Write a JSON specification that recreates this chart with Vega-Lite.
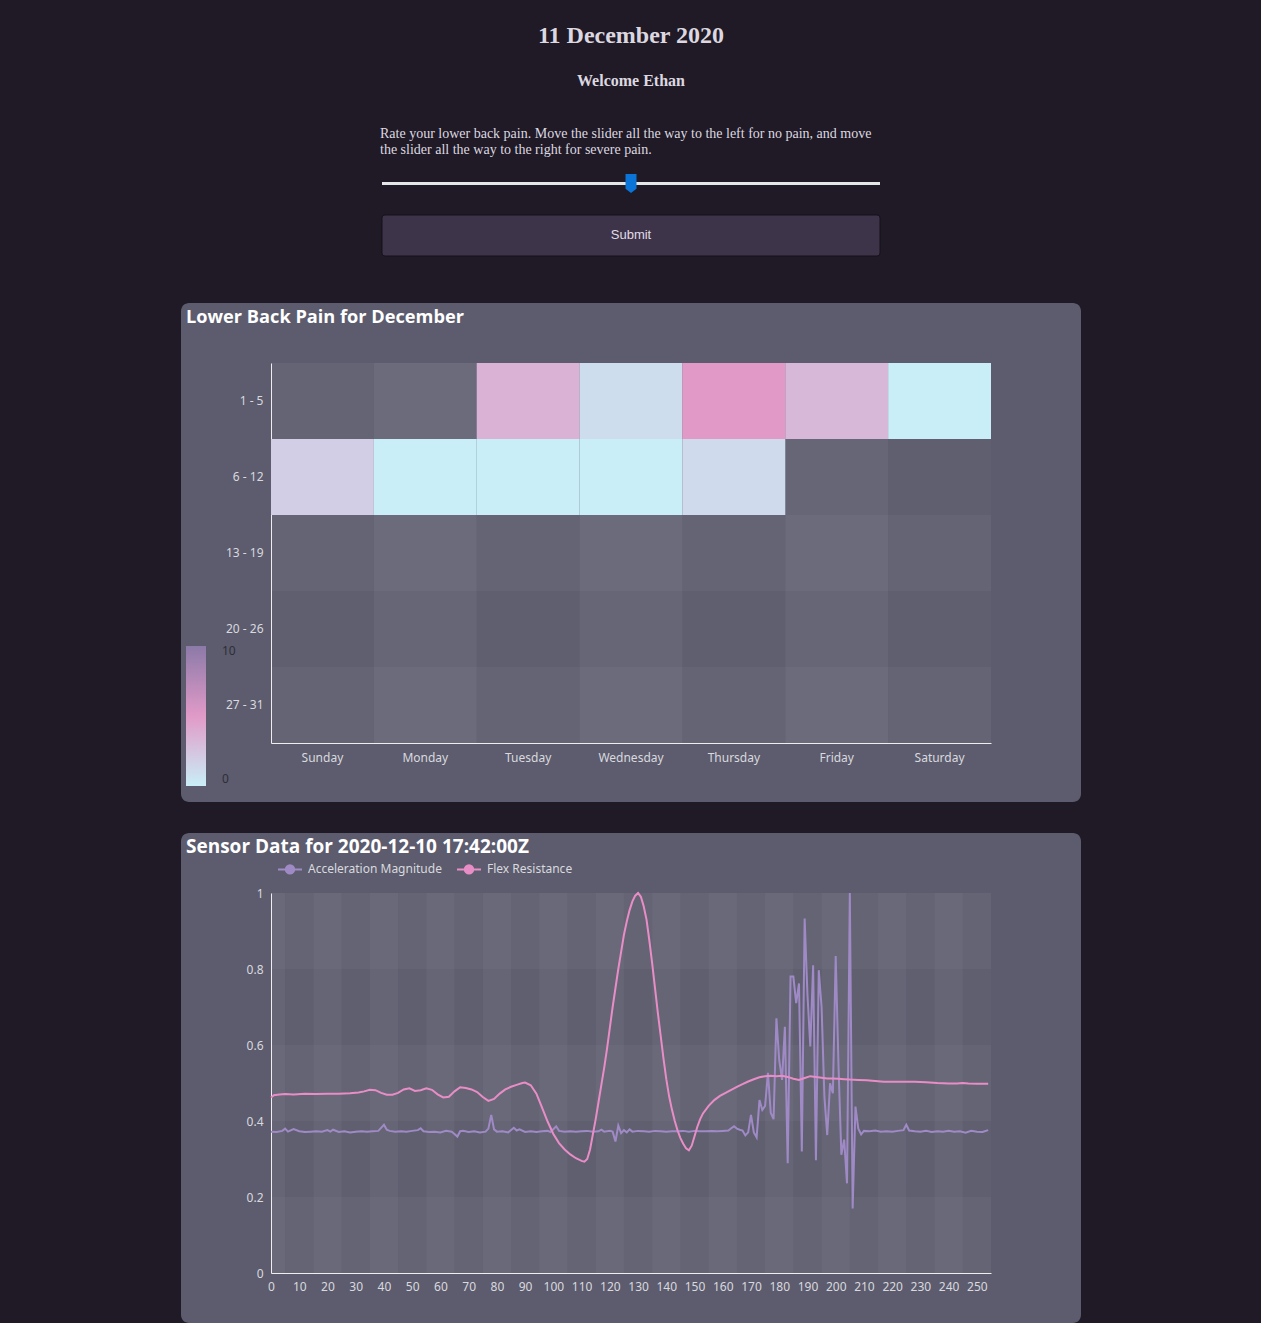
{
  "$schema": "https://vega.github.io/schema/vega-lite/v6.json",
  "background": "#1f1a25",
  "padding": {"left": 181, "top": 24, "right": 180, "bottom": 0},
  "title": {
    "text": "11 December 2020",
    "subtitle": "Welcome Ethan",
    "anchor": "middle",
    "font": "Liberation Serif",
    "fontSize": 24,
    "fontWeight": "bold",
    "color": "#ddd8e0",
    "subtitleFont": "Liberation Serif",
    "subtitleFontSize": 16,
    "subtitleFontWeight": "bold",
    "subtitleColor": "#ddd8e0",
    "subtitlePadding": 25,
    "offset": 38
  },
  "spacing": 31,
  "config": {
    "view": {"stroke": null},
    "axis": {
      "labelFont": "Noto Sans",
      "labelFontSize": 12,
      "labelColor": "#d9d9de",
      "domainColor": "#eeeeee",
      "domainWidth": 1,
      "ticks": false,
      "grid": false,
      "zindex": 1,
      "labelOverlap": false
    }
  },
  "vconcat": [
    {
      "width": 900,
      "height": 109,
      "title": {
        "text": ["Rate your lower back pain. Move the slider all the way to the left for no pain, and move", "the slider all the way to the right for severe pain."],
        "anchor": "start",
        "frame": "group",
        "dx": 199,
        "font": "Liberation Serif",
        "fontSize": 14,
        "fontWeight": "normal",
        "color": "#ddd8e0",
        "lineHeight": 16,
        "offset": 6
      },
      "data": {"values": [{"rating": 5}]},
      "layer": [
        {
          "mark": {"type": "rect", "fill": "#3d3449", "stroke": "#15111a", "strokeWidth": 1, "cornerRadius": 3},
          "encoding": {
            "x": {"datum": 0, "type": "quantitative", "scale": {"domain": [0, 10], "range": [201, 699]}, "axis": null},
            "x2": {"datum": 10},
            "y": {"datum": "button", "type": "nominal", "scale": {"domain": ["slider", "button"], "range": [0, 93], "paddingInner": 0.2115, "paddingOuter": 0}, "axis": null}
          }
        },
        {
          "mark": {"type": "text", "text": "Submit", "font": "Liberation Sans", "fontSize": 13, "fill": "#e0dce6"},
          "encoding": {
            "x": {"datum": 5, "type": "quantitative"},
            "y": {"datum": "button", "type": "nominal", "bandPosition": 0.5}
          }
        },
        {
          "mark": {"type": "rule", "stroke": "#e6e6e6", "strokeWidth": 3},
          "encoding": {
            "x": {"datum": 0, "type": "quantitative"},
            "x2": {"datum": 10},
            "y": {"datum": "slider", "type": "nominal", "bandPosition": 0.5}
          }
        },
        {
          "mark": {"type": "point", "shape": "M-0.58,-1H0.58V0.55L0,1L-0.58,0.55Z", "filled": true, "fill": "#0a74d8", "opacity": 1, "size": 361},
          "encoding": {
            "x": {"field": "rating", "type": "quantitative"},
            "y": {"datum": "slider", "type": "nominal", "bandPosition": 0.5}
          }
        }
      ]
    },
    {
      "width": 900,
      "height": 499,
      "view": {"fill": "#5c5c6e", "cornerRadius": 8, "stroke": null},
      "title": {
        "text": "Lower Back Pain for December",
        "anchor": "start",
        "frame": "group",
        "offset": -24,
        "dx": 5,
        "font": "Open Sans",
        "fontSize": 18.2,
        "fontWeight": "bold",
        "color": "#ffffff"
      },
      "data": {
        "values": [
          {"week": "1 - 5", "day": "Sunday", "pain": null},
          {"week": "1 - 5", "day": "Monday", "pain": null},
          {"week": "1 - 5", "day": "Tuesday", "pain": 3.6},
          {"week": "1 - 5", "day": "Wednesday", "pain": 1},
          {"week": "1 - 5", "day": "Thursday", "pain": 5},
          {"week": "1 - 5", "day": "Friday", "pain": 3.2},
          {"week": "1 - 5", "day": "Saturday", "pain": 0},
          {"week": "6 - 12", "day": "Sunday", "pain": 1.9},
          {"week": "6 - 12", "day": "Monday", "pain": 0},
          {"week": "6 - 12", "day": "Tuesday", "pain": 0},
          {"week": "6 - 12", "day": "Wednesday", "pain": 0},
          {"week": "6 - 12", "day": "Thursday", "pain": 1.2},
          {"week": "6 - 12", "day": "Friday", "pain": null},
          {"week": "6 - 12", "day": "Saturday", "pain": null},
          {"week": "13 - 19", "day": "Sunday", "pain": null},
          {"week": "13 - 19", "day": "Monday", "pain": null},
          {"week": "13 - 19", "day": "Tuesday", "pain": null},
          {"week": "13 - 19", "day": "Wednesday", "pain": null},
          {"week": "13 - 19", "day": "Thursday", "pain": null},
          {"week": "13 - 19", "day": "Friday", "pain": null},
          {"week": "13 - 19", "day": "Saturday", "pain": null},
          {"week": "20 - 26", "day": "Sunday", "pain": null},
          {"week": "20 - 26", "day": "Monday", "pain": null},
          {"week": "20 - 26", "day": "Tuesday", "pain": null},
          {"week": "20 - 26", "day": "Wednesday", "pain": null},
          {"week": "20 - 26", "day": "Thursday", "pain": null},
          {"week": "20 - 26", "day": "Friday", "pain": null},
          {"week": "20 - 26", "day": "Saturday", "pain": null},
          {"week": "27 - 31", "day": "Sunday", "pain": null},
          {"week": "27 - 31", "day": "Monday", "pain": null},
          {"week": "27 - 31", "day": "Tuesday", "pain": null},
          {"week": "27 - 31", "day": "Wednesday", "pain": null},
          {"week": "27 - 31", "day": "Thursday", "pain": null},
          {"week": "27 - 31", "day": "Friday", "pain": null},
          {"week": "27 - 31", "day": "Saturday", "pain": null}
        ]
      },
      "encoding": {
        "x": {
          "field": "day", "type": "nominal", "title": null,
          "scale": {"domain": ["Sunday", "Monday", "Tuesday", "Wednesday", "Thursday", "Friday", "Saturday"], "range": [90, 810], "paddingInner": 0, "paddingOuter": 0},
          "axis": {"orient": "bottom", "offset": -59, "labelPadding": 9, "labelAngle": 0}
        },
        "y": {
          "field": "week", "type": "nominal", "title": null,
          "scale": {"domain": ["1 - 5", "6 - 12", "13 - 19", "20 - 26", "27 - 31"], "range": [60, 440], "paddingInner": 0, "paddingOuter": 0},
          "axis": {"orient": "left", "offset": -90, "labelPadding": 8}
        }
      },
      "layer": [
        {
          "mark": {"type": "rect", "fill": "#ffffff"},
          "encoding": {
            "fillOpacity": {"field": "day", "type": "nominal", "legend": null,
              "scale": {"type": "ordinal", "domain": ["Sunday", "Monday", "Tuesday", "Wednesday", "Thursday", "Friday", "Saturday"], "range": [0.02, 0.065, 0.02, 0.065, 0.02, 0.065, 0.02]}}
          }
        },
        {
          "mark": {"type": "rect", "fill": "#ffffff"},
          "encoding": {
            "opacity": {"field": "week", "type": "nominal", "legend": null,
              "scale": {"type": "ordinal", "domain": ["1 - 5", "6 - 12", "13 - 19", "20 - 26", "27 - 31"], "range": [0.035, 0.0, 0.035, 0.0, 0.035]}}
          }
        },
        {
          "transform": [{"filter": "isValid(datum.pain)"}],
          "mark": {"type": "rect"},
          "encoding": {
            "color": {
              "field": "pain", "type": "quantitative",
              "scale": {"domain": [0, 5, 10], "range": ["#c9eef8", "#e19ac8", "#8b7aa8"], "interpolate": "rgb"},
              "legend": {
                "orient": "none", "legendX": 5, "legendY": 343, "direction": "vertical",
                "title": null, "values": [0, 10],
                "gradientLength": 140, "gradientThickness": 20,
                "labelColor": "#2e2e36", "labelFont": "Noto Sans", "labelFontSize": 12, "labelOffset": 16
              }
            }
          }
        }
      ]
    },
    {
      "width": 900,
      "height": 490,
      "view": {"fill": "#5c5c6e", "cornerRadius": 8, "stroke": null},
      "title": {
        "text": "Sensor Data for 2020-12-10 17:42:00Z",
        "anchor": "start",
        "frame": "group",
        "offset": -24,
        "dx": 5,
        "font": "Open Sans",
        "fontSize": 19,
        "fontWeight": "bold",
        "color": "#ffffff"
      },
      "layer": [
        {
          "data": {"values": [{"a": 5, "b": 15}, {"a": 25, "b": 35}, {"a": 45, "b": 55}, {"a": 65, "b": 75}, {"a": 85, "b": 95}, {"a": 105, "b": 115}, {"a": 125, "b": 135}, {"a": 145, "b": 155}, {"a": 165, "b": 175}, {"a": 185, "b": 195}, {"a": 205, "b": 215}, {"a": 225, "b": 235}, {"a": 245, "b": 255}]},
          "mark": {"type": "rect", "fill": "#ffffff", "opacity": 0.02},
          "encoding": {
            "x": {"field": "a", "type": "quantitative", "title": null,
              "scale": {"domain": [0, 255], "range": [90, 810], "nice": false, "zero": false},
              "axis": {"orient": "bottom", "offset": -50, "labelPadding": 8, "values": [0, 10, 20, 30, 40, 50, 60, 70, 80, 90, 100, 110, 120, 130, 140, 150, 160, 170, 180, 190, 200, 210, 220, 230, 240, 250], "tickCount": 26, "labelFlush": false, "labelOverlap": false}},
            "x2": {"field": "b"},
            "y": {"datum": 0, "type": "quantitative", "title": null,
              "scale": {"domain": [0, 1], "range": [440, 60], "nice": false},
              "axis": {"orient": "left", "offset": -90, "labelPadding": 8, "values": [0, 0.2, 0.4, 0.6, 0.8, 1], "format": "~g", "labelFlush": false}},
            "y2": {"datum": 1}
          }
        },
        {
          "data": {"values": [{"a": 0, "b": 5}, {"a": 15, "b": 25}, {"a": 35, "b": 45}, {"a": 55, "b": 65}, {"a": 75, "b": 85}, {"a": 95, "b": 105}, {"a": 115, "b": 125}, {"a": 135, "b": 145}, {"a": 155, "b": 165}, {"a": 175, "b": 185}, {"a": 195, "b": 205}, {"a": 215, "b": 225}, {"a": 235, "b": 245}]},
          "mark": {"type": "rect", "fill": "#ffffff", "opacity": 0.06},
          "encoding": {
            "x": {"field": "a", "type": "quantitative", "title": null,
              "axis": {"orient": "bottom", "offset": -50, "labelPadding": 8, "values": [0, 10, 20, 30, 40, 50, 60, 70, 80, 90, 100, 110, 120, 130, 140, 150, 160, 170, 180, 190, 200, 210, 220, 230, 240, 250], "tickCount": 26, "labelFlush": false, "labelOverlap": false}},
            "x2": {"field": "b"},
            "y": {"datum": 0, "type": "quantitative", "title": null,
              "axis": {"orient": "left", "offset": -90, "labelPadding": 8, "values": [0, 0.2, 0.4, 0.6, 0.8, 1], "format": "~g", "labelFlush": false}},
            "y2": {"datum": 1}
          }
        },
        {
          "data": {"values": [{"a": 0, "b": 0.2}, {"a": 0.4, "b": 0.6}, {"a": 0.8, "b": 1}]},
          "mark": {"type": "rect", "fill": "#ffffff", "opacity": 0.03},
          "encoding": {
            "x": {"datum": 0, "type": "quantitative", "title": null,
              "axis": {"orient": "bottom", "offset": -50, "labelPadding": 8, "values": [0, 10, 20, 30, 40, 50, 60, 70, 80, 90, 100, 110, 120, 130, 140, 150, 160, 170, 180, 190, 200, 210, 220, 230, 240, 250], "tickCount": 26, "labelFlush": false, "labelOverlap": false}},
            "x2": {"datum": 255},
            "y": {"field": "a", "type": "quantitative", "title": null,
              "axis": {"orient": "left", "offset": -90, "labelPadding": 8, "values": [0, 0.2, 0.4, 0.6, 0.8, 1], "format": "~g", "labelFlush": false}},
            "y2": {"field": "b"}
          }
        },
        {
          "data": {"values": [
            {"t": 0, "v": 0.372}, {"t": 2, "v": 0.371}, {"t": 4, "v": 0.374}, {"t": 5, "v": 0.380}, {"t": 6, "v": 0.372}, {"t": 8, "v": 0.379}, {"t": 10, "v": 0.373}, {"t": 12, "v": 0.371}, {"t": 14, "v": 0.372}, {"t": 16, "v": 0.373}, {"t": 18, "v": 0.372}, {"t": 20, "v": 0.376}, {"t": 21, "v": 0.372}, {"t": 22, "v": 0.377}, {"t": 24, "v": 0.371}, {"t": 26, "v": 0.373}, {"t": 28, "v": 0.370}, {"t": 30, "v": 0.372}, {"t": 32, "v": 0.373}, {"t": 34, "v": 0.372}, {"t": 36, "v": 0.373}, {"t": 38, "v": 0.374}, {"t": 39, "v": 0.382}, {"t": 40, "v": 0.390}, {"t": 41, "v": 0.377}, {"t": 42, "v": 0.374}, {"t": 44, "v": 0.372}, {"t": 46, "v": 0.373}, {"t": 48, "v": 0.372}, {"t": 50, "v": 0.374}, {"t": 52, "v": 0.376}, {"t": 53, "v": 0.381}, {"t": 54, "v": 0.373}, {"t": 56, "v": 0.371}, {"t": 58, "v": 0.372}, {"t": 60, "v": 0.370}, {"t": 62, "v": 0.374}, {"t": 64, "v": 0.372}, {"t": 65, "v": 0.366}, {"t": 66, "v": 0.359}, {"t": 67, "v": 0.373}, {"t": 68, "v": 0.374}, {"t": 70, "v": 0.371}, {"t": 72, "v": 0.373}, {"t": 74, "v": 0.370}, {"t": 76, "v": 0.372}, {"t": 77, "v": 0.380}, {"t": 78, "v": 0.416}, {"t": 79, "v": 0.378}, {"t": 80, "v": 0.372}, {"t": 82, "v": 0.373}, {"t": 84, "v": 0.370}, {"t": 86, "v": 0.382}, {"t": 87, "v": 0.375}, {"t": 88, "v": 0.378}, {"t": 90, "v": 0.371}, {"t": 92, "v": 0.373}, {"t": 94, "v": 0.371}, {"t": 96, "v": 0.373}, {"t": 98, "v": 0.374}, {"t": 99, "v": 0.371}, {"t": 101, "v": 0.386}, {"t": 102, "v": 0.374}, {"t": 104, "v": 0.372}, {"t": 106, "v": 0.373}, {"t": 108, "v": 0.372}, {"t": 110, "v": 0.373}, {"t": 112, "v": 0.374}, {"t": 114, "v": 0.372}, {"t": 116, "v": 0.373}, {"t": 117, "v": 0.377}, {"t": 118, "v": 0.372}, {"t": 120, "v": 0.374}, {"t": 121, "v": 0.372}, {"t": 122, "v": 0.346}, {"t": 123, "v": 0.388}, {"t": 124, "v": 0.368}, {"t": 125, "v": 0.376}, {"t": 126, "v": 0.370}, {"t": 127, "v": 0.378}, {"t": 128, "v": 0.372}, {"t": 130, "v": 0.374}, {"t": 132, "v": 0.373}, {"t": 134, "v": 0.372}, {"t": 136, "v": 0.374}, {"t": 138, "v": 0.373}, {"t": 140, "v": 0.372}, {"t": 142, "v": 0.373}, {"t": 144, "v": 0.373}, {"t": 146, "v": 0.374}, {"t": 148, "v": 0.372}, {"t": 150, "v": 0.374}, {"t": 152, "v": 0.373}, {"t": 154, "v": 0.373}, {"t": 156, "v": 0.374}, {"t": 158, "v": 0.373}, {"t": 160, "v": 0.374}, {"t": 162, "v": 0.375}, {"t": 163, "v": 0.381}, {"t": 164, "v": 0.386}, {"t": 165, "v": 0.380}, {"t": 166, "v": 0.377}, {"t": 167, "v": 0.375}, {"t": 168, "v": 0.362}, {"t": 169, "v": 0.370}, {"t": 170, "v": 0.416}, {"t": 171, "v": 0.370}, {"t": 172, "v": 0.357}, {"t": 173, "v": 0.455}, {"t": 174, "v": 0.429}, {"t": 175, "v": 0.440}, {"t": 176, "v": 0.527}, {"t": 177, "v": 0.421}, {"t": 178, "v": 0.405}, {"t": 179, "v": 0.670}, {"t": 180, "v": 0.560}, {"t": 181, "v": 0.508}, {"t": 182, "v": 0.648}, {"t": 183, "v": 0.289}, {"t": 184, "v": 0.780}, {"t": 185, "v": 0.780}, {"t": 186, "v": 0.710}, {"t": 187, "v": 0.762}, {"t": 188, "v": 0.320}, {"t": 189, "v": 0.933}, {"t": 190, "v": 0.732}, {"t": 191, "v": 0.596}, {"t": 192, "v": 0.810}, {"t": 193, "v": 0.297}, {"t": 194, "v": 0.797}, {"t": 195, "v": 0.700}, {"t": 196, "v": 0.464}, {"t": 197, "v": 0.363}, {"t": 198, "v": 0.499}, {"t": 199, "v": 0.473}, {"t": 200, "v": 0.834}, {"t": 201, "v": 0.543}, {"t": 202, "v": 0.311}, {"t": 203, "v": 0.351}, {"t": 204, "v": 0.236}, {"t": 205, "v": 1.0}, {"t": 206, "v": 0.170}, {"t": 207, "v": 0.438}, {"t": 208, "v": 0.380}, {"t": 209, "v": 0.365}, {"t": 210, "v": 0.374}, {"t": 212, "v": 0.373}, {"t": 214, "v": 0.375}, {"t": 216, "v": 0.372}, {"t": 218, "v": 0.373}, {"t": 220, "v": 0.372}, {"t": 222, "v": 0.374}, {"t": 224, "v": 0.376}, {"t": 225, "v": 0.390}, {"t": 226, "v": 0.375}, {"t": 228, "v": 0.373}, {"t": 230, "v": 0.372}, {"t": 232, "v": 0.374}, {"t": 234, "v": 0.371}, {"t": 236, "v": 0.373}, {"t": 238, "v": 0.372}, {"t": 240, "v": 0.374}, {"t": 242, "v": 0.372}, {"t": 244, "v": 0.373}, {"t": 246, "v": 0.369}, {"t": 248, "v": 0.374}, {"t": 250, "v": 0.372}, {"t": 252, "v": 0.371}, {"t": 254, "v": 0.376}
          ]},
          "mark": {"type": "line", "strokeWidth": 2},
          "encoding": {
            "x": {"field": "t", "type": "quantitative", "title": null,
              "axis": {"orient": "bottom", "offset": -50, "labelPadding": 8, "values": [0, 10, 20, 30, 40, 50, 60, 70, 80, 90, 100, 110, 120, 130, 140, 150, 160, 170, 180, 190, 200, 210, 220, 230, 240, 250], "tickCount": 26, "labelFlush": false, "labelOverlap": false}},
            "y": {"field": "v", "type": "quantitative", "title": null,
              "axis": {"orient": "left", "offset": -90, "labelPadding": 8, "values": [0, 0.2, 0.4, 0.6, 0.8, 1], "format": "~g", "labelFlush": false}},
            "color": {
              "datum": "Acceleration Magnitude", "type": "nominal",
              "scale": {"domain": ["Acceleration Magnitude", "Flex Resistance"], "range": ["#9f8ac6", "#e98dc7"]},
              "legend": {
                "orient": "none", "legendX": 96, "legendY": 23, "direction": "horizontal", "title": null,
                "symbolType": "M-1,0H-0.35M0.35,0H1M0.35,0A0.35,0.35,0,1,1,-0.35,0A0.35,0.35,0,1,1,0.35,0M0.2,0A0.2,0.2,0,1,1,-0.2,0A0.2,0.2,0,1,1,0.2,0M0.07,0A0.07,0.07,0,1,1,-0.07,0A0.07,0.07,0,1,1,0.07,0",
                "symbolSize": 576, "symbolStrokeWidth": 2,
                "labelColor": "#d9d9de", "labelFont": "Noto Sans", "labelFontSize": 12, "labelOffset": 5, "columnPadding": 11
              }
            }
          }
        },
        {
          "data": {"values": [
            {"t": 0, "v": 0.462}, {"t": 1, "v": 0.468}, {"t": 3, "v": 0.470}, {"t": 5, "v": 0.471}, {"t": 8, "v": 0.470}, {"t": 12, "v": 0.472}, {"t": 16, "v": 0.471}, {"t": 20, "v": 0.472}, {"t": 24, "v": 0.472}, {"t": 28, "v": 0.473}, {"t": 31, "v": 0.475}, {"t": 33, "v": 0.478}, {"t": 35, "v": 0.482}, {"t": 37, "v": 0.481}, {"t": 39, "v": 0.474}, {"t": 41, "v": 0.469}, {"t": 43, "v": 0.469}, {"t": 45, "v": 0.474}, {"t": 47, "v": 0.483}, {"t": 49, "v": 0.486}, {"t": 51, "v": 0.479}, {"t": 53, "v": 0.481}, {"t": 55, "v": 0.486}, {"t": 57, "v": 0.482}, {"t": 59, "v": 0.470}, {"t": 61, "v": 0.462}, {"t": 63, "v": 0.464}, {"t": 65, "v": 0.478}, {"t": 67, "v": 0.489}, {"t": 69, "v": 0.487}, {"t": 71, "v": 0.483}, {"t": 73, "v": 0.476}, {"t": 75, "v": 0.463}, {"t": 77, "v": 0.453}, {"t": 79, "v": 0.458}, {"t": 81, "v": 0.472}, {"t": 83, "v": 0.483}, {"t": 85, "v": 0.490}, {"t": 87, "v": 0.495}, {"t": 89, "v": 0.500}, {"t": 90, "v": 0.501}, {"t": 92, "v": 0.494}, {"t": 94, "v": 0.472}, {"t": 96, "v": 0.435}, {"t": 98, "v": 0.398}, {"t": 100, "v": 0.366}, {"t": 102, "v": 0.342}, {"t": 104, "v": 0.325}, {"t": 106, "v": 0.312}, {"t": 108, "v": 0.302}, {"t": 110, "v": 0.295}, {"t": 111, "v": 0.293}, {"t": 112, "v": 0.300}, {"t": 113, "v": 0.325}, {"t": 114, "v": 0.365}, {"t": 115, "v": 0.405}, {"t": 116, "v": 0.450}, {"t": 117, "v": 0.495}, {"t": 118, "v": 0.540}, {"t": 119, "v": 0.590}, {"t": 120, "v": 0.645}, {"t": 121, "v": 0.700}, {"t": 122, "v": 0.750}, {"t": 123, "v": 0.800}, {"t": 124, "v": 0.845}, {"t": 125, "v": 0.890}, {"t": 126, "v": 0.925}, {"t": 127, "v": 0.955}, {"t": 128, "v": 0.978}, {"t": 129, "v": 0.993}, {"t": 130, "v": 1.0}, {"t": 131, "v": 0.99}, {"t": 132, "v": 0.965}, {"t": 133, "v": 0.93}, {"t": 134, "v": 0.875}, {"t": 135, "v": 0.815}, {"t": 136, "v": 0.75}, {"t": 137, "v": 0.685}, {"t": 138, "v": 0.625}, {"t": 139, "v": 0.565}, {"t": 140, "v": 0.51}, {"t": 141, "v": 0.465}, {"t": 142, "v": 0.43}, {"t": 143, "v": 0.40}, {"t": 144, "v": 0.375}, {"t": 145, "v": 0.355}, {"t": 146, "v": 0.34}, {"t": 147, "v": 0.328}, {"t": 148, "v": 0.323}, {"t": 149, "v": 0.335}, {"t": 150, "v": 0.36}, {"t": 151, "v": 0.385}, {"t": 152, "v": 0.405}, {"t": 153, "v": 0.42}, {"t": 155, "v": 0.44}, {"t": 157, "v": 0.455}, {"t": 159, "v": 0.466}, {"t": 161, "v": 0.474}, {"t": 163, "v": 0.482}, {"t": 165, "v": 0.49}, {"t": 167, "v": 0.497}, {"t": 169, "v": 0.504}, {"t": 171, "v": 0.51}, {"t": 173, "v": 0.515}, {"t": 175, "v": 0.518}, {"t": 177, "v": 0.519}, {"t": 179, "v": 0.518}, {"t": 181, "v": 0.519}, {"t": 183, "v": 0.516}, {"t": 185, "v": 0.511}, {"t": 187, "v": 0.508}, {"t": 189, "v": 0.513}, {"t": 191, "v": 0.518}, {"t": 193, "v": 0.516}, {"t": 195, "v": 0.514}, {"t": 197, "v": 0.512}, {"t": 199, "v": 0.512}, {"t": 201, "v": 0.511}, {"t": 203, "v": 0.510}, {"t": 205, "v": 0.509}, {"t": 208, "v": 0.508}, {"t": 211, "v": 0.507}, {"t": 214, "v": 0.505}, {"t": 217, "v": 0.503}, {"t": 220, "v": 0.503}, {"t": 224, "v": 0.503}, {"t": 228, "v": 0.503}, {"t": 232, "v": 0.502}, {"t": 236, "v": 0.500}, {"t": 240, "v": 0.499}, {"t": 243, "v": 0.499}, {"t": 245, "v": 0.500}, {"t": 247, "v": 0.499}, {"t": 250, "v": 0.498}, {"t": 254, "v": 0.498}
          ]},
          "mark": {"type": "line", "strokeWidth": 2},
          "encoding": {
            "x": {"field": "t", "type": "quantitative", "title": null,
              "axis": {"orient": "bottom", "offset": -50, "labelPadding": 8, "values": [0, 10, 20, 30, 40, 50, 60, 70, 80, 90, 100, 110, 120, 130, 140, 150, 160, 170, 180, 190, 200, 210, 220, 230, 240, 250], "tickCount": 26, "labelFlush": false, "labelOverlap": false}},
            "y": {"field": "v", "type": "quantitative", "title": null,
              "axis": {"orient": "left", "offset": -90, "labelPadding": 8, "values": [0, 0.2, 0.4, 0.6, 0.8, 1], "format": "~g", "labelFlush": false}},
            "color": {"datum": "Flex Resistance", "type": "nominal"}
          }
        }
      ]
    }
  ]
}
